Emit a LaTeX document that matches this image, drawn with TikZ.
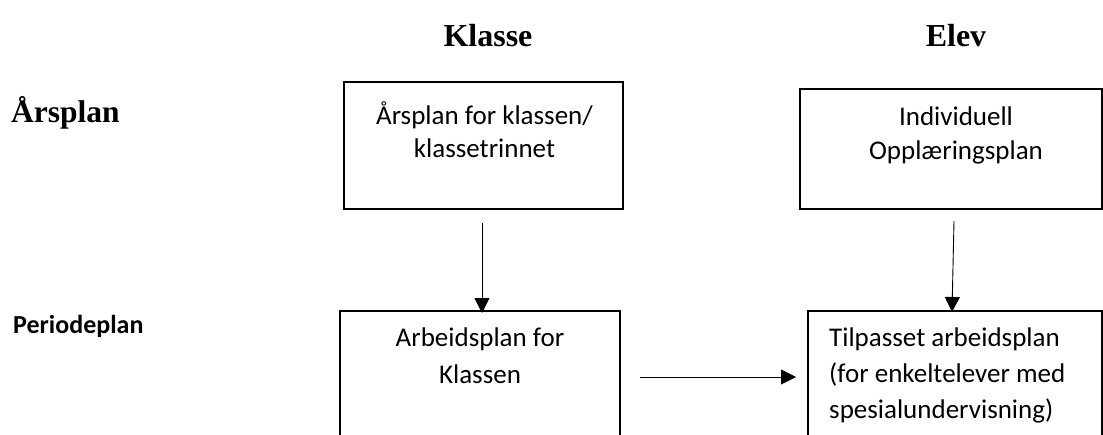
\documentclass[tikz,border=0pt]{standalone}
\usepackage{fontspec}
\setmainfont{Carlito}
\newfontfamily\headfont{Liberation Serif}
\usetikzlibrary{arrows.meta,calc}
\begin{document}
\begin{tikzpicture}[x=1pt,y=-1pt,
  planbox/.style={draw,line width=1.3pt,inner sep=0pt,outer sep=0pt},
  boxtext/.style={inner sep=0pt},
  heading/.style={inner sep=0pt,anchor=base,font=\headfont\bfseries\fontsize{32}{36}\selectfont},
  arr/.style={line width=0.9pt,-{Triangle[length=15pt,width=15pt]}}]
\useasboundingbox (0,0) rectangle (1103,434);
\clip (0,0) rectangle (1103,434);
% column and row headings
\node[heading] (klasse) at (488,46) {Klasse};
\node[heading] (elev) at (956,46) {Elev};
\node[heading,anchor=base west,font=\headfont\bfseries\fontsize{31.5}{36}\selectfont] (aarsplan) at (11,122) {Årsplan};
\node[inner sep=0pt,anchor=base west,font=\bfseries\fontsize{26}{30}\selectfont] (periode) at (13,333) {Periodeplan};
% boxes
\node[planbox,minimum width=279pt,minimum height=127pt] (box1) at (483.5,145.5) {};
\node[planbox,minimum width=302pt,minimum height=120pt] (box2) at (951,149) {};
\node[planbox,minimum width=280pt,minimum height=134pt] (box3) at (480,378) {};
\node[planbox,minimum width=294pt,minimum height=134pt] (box4) at (955,378) {};
% box texts (base anchor = baseline of the last line)
\node[boxtext,align=center,anchor=base,font=\fontsize{27}{33}\selectfont] (t1) at (484.5,157) {Årsplan for klassen/\\klassetrinnet};
\node[boxtext,align=center,anchor=base,font=\fontsize{27}{34}\selectfont] (t2) at (956,159) {Individuell\\Opplæringsplan};
\node[boxtext,align=center,anchor=base,font=\fontsize{27}{37}\selectfont] (t3) at (480,383) {Arbeidsplan for\\Klassen};
\node[boxtext,align=left,anchor=base west,font=\fontsize{27}{36}\selectfont] (t4) at (829,418) {Tilpasset arbeidsplan\\(for enkeltelever med\\spesialundervisning)};
% connectors
\draw[arr] ($(box1.south)+(-1.5,14)$) -- ($(box3.north)+(2,2)$);
\draw[arr] ($(box2.south)+(3,12)$) -- ($(box4.north)+(-3,1)$);
\draw[arr] ($(box3.east)+(20,-1)$) -- ($(box4.west)+(-12,-1)$);
\end{tikzpicture}
\end{document}
